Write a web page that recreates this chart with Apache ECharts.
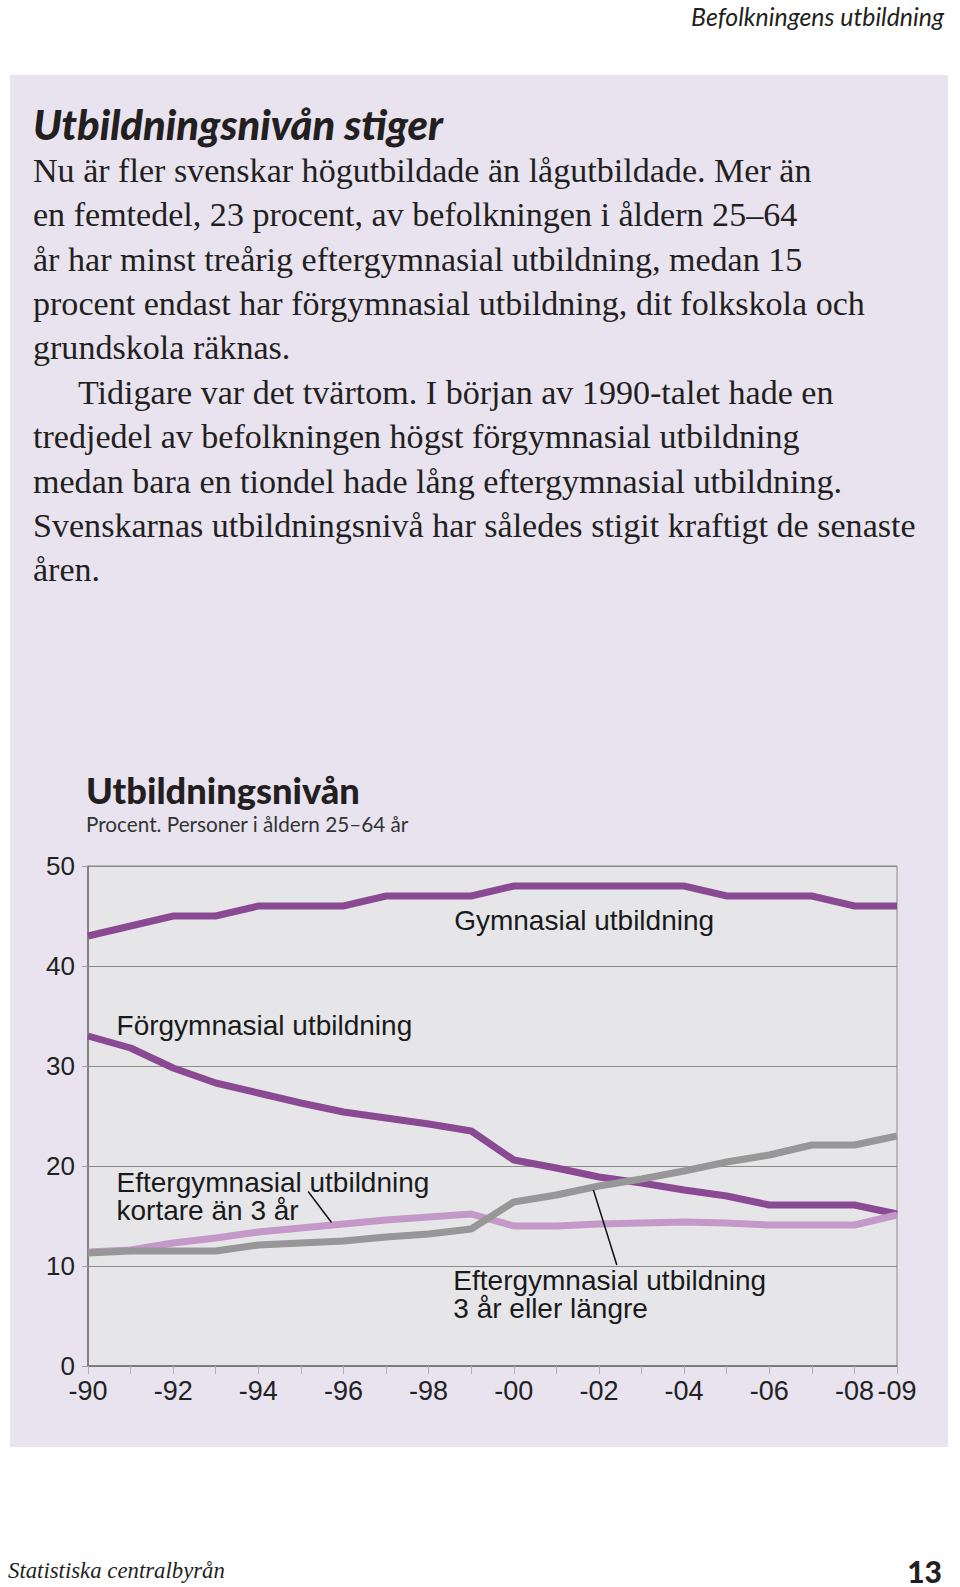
<!DOCTYPE html>
<html>
<head>
<meta charset="utf-8">
<script src="https://cdn.jsdelivr.net/npm/echarts@6/dist/echarts.min.js"></script>
<style>
  html, body { margin:0; padding:0; background:#ffffff; }
  body { width:960px; height:1587px; position:relative; overflow:hidden; }
  .abs { position:absolute; white-space:nowrap; color:#231f20; }
  #panel { position:absolute; left:10px; top:75px; width:938px; height:1372px; background:#e8e3ef; }
  #chart { position:absolute; left:0; top:0; width:960px; height:1587px; }
</style>
</head>
<body>
<div id="panel"></div>
<div id="header" class="abs">Befolkningens utbildning</div>
<div id="heading" class="abs">Utbildningsnivån stiger</div>
<div id="bodytext" class="abs"></div>
<div id="footer" class="abs">Statistiska centralbyrån</div>
<div id="pageno" class="abs">13</div>
<div id="chart"></div>
<script>
// ---------- data ----------
const years = [1990,1991,1992,1993,1994,1995,1996,1997,1998,1999,2000,2001,2002,2003,2004,2005,2006,2007,2008,2009];
const gymnasial    = [43,44,45,45,46,46,46,47,47,47,48,48,48,48,48,47,47,47,46,46];
const forgymnasial = [33,31.8,29.8,28.3,27.3,26.3,25.4,24.8,24.2,23.5,20.6,19.8,18.9,18.3,17.6,17.0,16.1,16.1,16.1,15.2];
const kortare3     = [11.4,11.6,12.3,12.8,13.4,13.8,14.2,14.6,14.9,15.2,14.0,14.0,14.2,14.3,14.4,14.3,14.1,14.1,14.1,15.1];
const langre3      = [11.3,11.5,11.5,11.5,12.1,12.3,12.5,12.9,13.2,13.7,16.4,17.1,18.0,18.7,19.5,20.4,21.1,22.1,22.1,23.0];
const xTickYears   = [1990,1992,1994,1996,1998,2000,2002,2004,2006,2008,2009];
const xTickLabels  = ['-90','-92','-94','-96','-98','-00','-02','-04','-06','-08','-09'];
const yTicks       = [0,10,20,30,40,50];

const bodyLines = [
  'Nu är fler svenskar högutbildade än lågutbildade. Mer än',
  'en femtedel, 23 procent, av befolkningen i åldern 25–64',
  'år har minst treårig eftergymnasial utbildning, medan 15',
  'procent endast har förgymnasial utbildning, dit folkskola och',
  'grundskola räknas.',
  'Tidigare var det tvärtom. I början av 1990-talet hade en',
  'tredjedel av befolkningen högst förgymnasial utbildning',
  'medan bara en tiondel hade lång eftergymnasial utbildning.',
  'Svenskarnas utbildningsnivå har således stigit kraftigt de senaste',
  'åren.'
];

// annotations in data coordinates [year, value]
const annotations = [
  { text: 'Gymnasial utbildning', at: [1998.6, 44.6] },
  { text: 'Förgymnasial utbildning', at: [1990.67, 34.1] },
  { text: 'Eftergymnasial utbildning\nkortare än 3 år', at: [1990.67, 17.0] },
  { text: 'Eftergymnasial utbildning\n3 år eller längre', at: [1998.58, 7.2] }
];
const leaders = [
  { from: [1995.17, 17.45], to: [1995.72, 14.35] },
  { from: [2001.87, 17.6], to: [2002.42, 10.1] }
];

// ---------- text fitting ----------
const mctx = document.createElement('canvas').getContext('2d');
function fit(text, style, weight, family, target) {
  mctx.font = style + ' ' + weight + ' 100px ' + family;
  return 100 * target / mctx.measureText(text).width;
}
function place(id, opts) {
  const el = document.getElementById(id);
  el.style.fontFamily = opts.family;
  el.style.fontStyle = opts.style;
  el.style.fontWeight = opts.weight;
  el.style.fontSize = opts.size + 'px';
  el.style.lineHeight = opts.lh + 'px';
  el.style.top = (opts.cy - opts.lh / 2) + 'px';
  if (opts.right !== undefined) el.style.right = opts.right + 'px';
  else el.style.left = opts.left + 'px';
}
place('header', { family:'Lato', style:'italic', weight:'400',
  size: fit('Befolkningens utbildning','italic','400','Lato',253), lh:30, cy:16, right: 960-944 });
place('heading', { family:'Lato', style:'italic', weight:'900',
  size: fit('Utbildningsnivån stiger','italic','900','Lato',410), lh:40, cy:124, left:33 });
const bodySize = fit(bodyLines[8],'normal','400','"Liberation Serif"',883);
const bt = document.getElementById('bodytext');
bt.innerHTML = bodyLines.map((l,i) => i===5 ? '<span style="padding-left:45px">'+l+'</span>' : l).join('<br>');
place('bodytext', { family:'"Liberation Serif"', style:'normal', weight:'400', size: bodySize, lh:44.4, cy:171, left:33 });
place('footer', { family:'"Liberation Serif"', style:'italic', weight:'400',
  size: fit('Statistiska centralbyrån','italic','400','"Liberation Serif"',217), lh:30, cy:1571, left:8 });
place('pageno', { family:'Lato', style:'normal', weight:'900', size: 30, lh:30, cy:1571, right: 960-942 });

// ---------- chart ----------
const chart = echarts.init(document.getElementById('chart'), null, { renderer: 'svg' });
const titleSize = fit('Utbildningsnivån','normal','900','Lato',274);
const subSize = fit('Procent. Personer i åldern 25–64 år','normal','400','Lato',323);
const axisFont = '"Liberation Sans", Arial, sans-serif';
function pairs(arr) { return years.map((y, i) => [y, arr[i]]); }

chart.setOption({
  animation: false,
  title: {
    text: 'Utbildningsnivån',
    subtext: 'Procent. Personer i åldern 25–64 år',
    left: 81, top: 768, itemGap: 2,
    textStyle: { fontFamily: 'Lato', fontWeight: 900, fontSize: titleSize, color: '#231f20', lineHeight: 34 },
    subtextStyle: { fontFamily: 'Lato', fontWeight: 400, fontSize: subSize, color: '#333333', lineHeight: 26 }
  },
  grid: {
    left: 88, right: 63, top: 866, bottom: 1587 - 1366,
    show: true, backgroundColor: '#e6e6e9', borderColor: '#8a8a8a', borderWidth: 1
  },
  xAxis: {
    type: 'value', min: years[0], max: years[years.length - 1], interval: 1,
    axisLine: { show: true, lineStyle: { color: '#707070', width: 1.5 } },
    axisTick: { show: true, length: 8, lineStyle: { color: '#b0b0b0', width: 1 } },
    splitLine: { show: false },
    axisLabel: {
      margin: 13, fontSize: 27, lineHeight: 24, fontFamily: axisFont, color: '#222222',
      formatter: function (v) { const i = xTickYears.indexOf(v); return i >= 0 ? xTickLabels[i] : ''; }
    }
  },
  yAxis: {
    type: 'value', min: yTicks[0], max: yTicks[yTicks.length - 1], interval: 10,
    axisLine: { show: true, lineStyle: { color: '#707070', width: 1.5 } },
    axisTick: { show: true, length: 6, lineStyle: { color: '#a0a0a0' } },
    splitLine: { show: true, lineStyle: { color: '#8a8a8a', width: 1 } },
    axisLabel: { margin: 13, fontSize: 26, lineHeight: 20, fontFamily: axisFont, color: '#222222' }
  },
  series: [
    { name: 'Gymnasial utbildning', type: 'line', data: pairs(gymnasial), showSymbol: false,
      lineStyle: { color: '#8a4a93', width: 7, join: 'miter' } },
    { name: 'Förgymnasial utbildning', type: 'line', data: pairs(forgymnasial), showSymbol: false,
      lineStyle: { color: '#8a4a93', width: 7 } },
    { name: 'Eftergymnasial utbildning kortare än 3 år', type: 'line', data: pairs(kortare3), showSymbol: false,
      lineStyle: { color: '#c498c8', width: 7 } },
    { name: 'Eftergymnasial utbildning 3 år eller längre', type: 'line', data: pairs(langre3), showSymbol: false,
      lineStyle: { color: '#979797', width: 7 } }
  ]
});

const g = [];
annotations.forEach(a => {
  const p = chart.convertToPixel({ gridIndex: 0 }, a.at);
  g.push({ type: 'text', x: p[0], y: p[1], z: 100,
    style: { text: a.text, fontSize: 28, fontFamily: axisFont, fill: '#1a1a1a',
      lineHeight: 28, verticalAlign: 'middle', align: 'left' } });
});
leaders.forEach(l => {
  const p1 = chart.convertToPixel({ gridIndex: 0 }, l.from);
  const p2 = chart.convertToPixel({ gridIndex: 0 }, l.to);
  g.push({ type: 'line', z: 100, shape: { x1: p1[0], y1: p1[1], x2: p2[0], y2: p2[1] },
    style: { stroke: '#111111', lineWidth: 1.5 } });
});
chart.setOption({ graphic: g });
</script>
</body>
</html>
